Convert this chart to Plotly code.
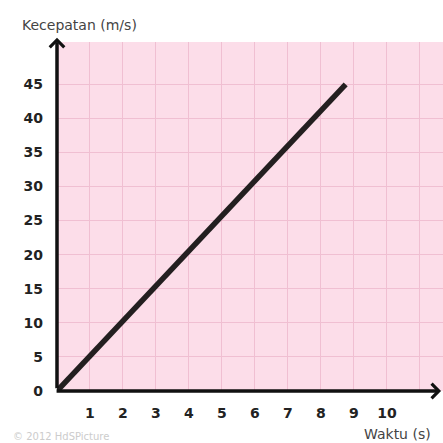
import plotly.graph_objects as go

# Data
time_s = [0, 8.75]
speed_ms = [0, 45]
x_ticks = [1, 2, 3, 4, 5, 6, 7, 8, 9, 10, 11]
x_ticktext = ["1", "2", "3", "4", "5", "6", "7", "8", "9", "10", ""]
y_ticks = [0, 5, 10, 15, 20, 25, 30, 35, 40, 45]
y_ticktext = ["0", "5", "10", "15", "20", "25", "30", "35", "40", "45"]

X_MAX = 11.7
Y_MAX = 51.2

fig = go.Figure()
fig.add_trace(go.Scatter(
    x=time_s, y=speed_ms, mode="lines",
    line=dict(color="#231f20", width=5.5),
    hoverinfo="skip", showlegend=False,
))

tickfont = dict(family="DejaVu Sans", size=14, color="#222222", weight="bold")

fig.update_layout(
    width=443, height=443,
    margin=dict(l=57, r=0, t=42, b=52, autoexpand=False),
    paper_bgcolor="white",
    plot_bgcolor="#fcdde9",
    showlegend=False,
    xaxis=dict(
        range=[0, X_MAX], tickvals=x_ticks, ticktext=x_ticktext,
        showgrid=True, gridcolor="#f0bfd2", gridwidth=1,
        zeroline=False, showline=False, ticks="",
        ticklabelstandoff=12, tickfont=tickfont, fixedrange=True,
    ),
    yaxis=dict(
        range=[0, Y_MAX], tickvals=y_ticks, ticktext=y_ticktext,
        showgrid=True, gridcolor="#f0bfd2", gridwidth=1,
        zeroline=False, showline=False, ticks="",
        ticklabelstandoff=13, tickfont=tickfont, fixedrange=True,
    ),
)

# Axis arrows (head at tip, tail offset in pixels)
fig.add_annotation(x=0, y=1.012, xref="x", yref="paper", ax=0, ay=352,
                   text="", showarrow=True, arrowhead=4, arrowsize=0.8, arrowwidth=3.5,
                   arrowcolor="#111111")
fig.add_annotation(x=0.995, y=0, xref="paper", yref="y", ax=-386, ay=0,
                   text="", showarrow=True, arrowhead=4, arrowsize=0.8, arrowwidth=3.5,
                   arrowcolor="#111111")

# Labels
fig.add_annotation(x=-0.096, y=1.05, xref="paper", yref="paper", xanchor="left", yanchor="middle",
                   text="Kecepatan (m/s)", showarrow=False,
                   font=dict(family="DejaVu Sans", size=14, color="#444444"))
fig.add_annotation(x=0.881, y=-0.123, xref="paper", yref="paper", xanchor="center", yanchor="middle",
                   text="Waktu (s)", showarrow=False,
                   font=dict(family="DejaVu Sans", size=14, color="#444444"))
fig.add_annotation(x=-0.118, y=-0.108, xref="paper", yref="paper", xanchor="left", yanchor="top",
                   text="© 2012 HdSPicture", showarrow=False,
                   font=dict(family="DejaVu Sans", size=10, color="#cccccc"))

fig.write_html("out.html", post_script="document.body.style.margin='0';",
               config={"displayModeBar": False})
